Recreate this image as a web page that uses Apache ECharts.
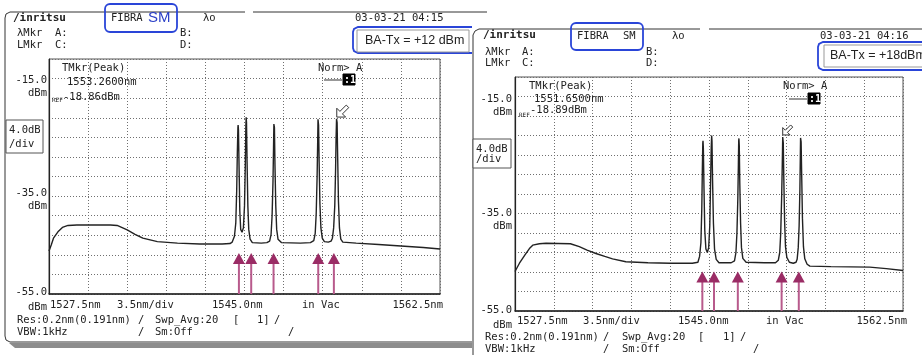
<!DOCTYPE html>
<html>
<head>
<meta charset="utf-8">
<script src="https://cdn.jsdelivr.net/npm/echarts@6/dist/echarts.min.js"></script>
<style>
html, body { margin: 0; background: #fff; }
#main { width: 922px; height: 355px; }
</style>
</head>
<body>
<div id="main"></div>
<script>
// wavelength span and level scale of the OSA screens
var wlStart = 1527.5, wlEnd = 1562.5, wlDiv = 3.5;
var lvlBottom = -55, lvlTop = -7, lvlDiv = 4;

// spectrum traces [nm, dBm]
var traceLeft = [
  [1527.5, -46.2], [1527.7, -45.0], [1527.9, -43.6], [1528.3, -42.3], [1528.7, -41.4], [1529.2, -41.0],
  [1530.0, -40.9], [1533.0, -40.9], [1533.6, -41.0], [1534.5, -41.9], [1535.2, -42.8], [1535.9, -43.6],
  [1537.2, -44.3], [1539.0, -44.6], [1541.0, -44.8], [1543.0, -44.8], [1543.7, -44.7],
  [1543.9, -44.4], [1544.1, -43.2], [1544.22, -40.5], [1544.3, -34], [1544.36, -26], [1544.41, -21],
  [1544.43, -20.5], [1544.46, -21.5], [1544.52, -30], [1544.58, -38], [1544.66, -41.8], [1544.78, -42.4],
  [1544.9, -41.5], [1545.0, -37], [1545.07, -29], [1545.12, -21], [1545.15, -18.9], [1545.18, -20],
  [1545.23, -28], [1545.3, -37], [1545.38, -41.8], [1545.5, -43.8], [1545.7, -44.5], [1546.5, -44.6],
  [1547.0, -44.5], [1547.25, -44.2], [1547.38, -42.8], [1547.47, -39], [1547.55, -32], [1547.6, -25],
  [1547.63, -20.3], [1547.65, -19.9], [1547.68, -21], [1547.73, -29], [1547.8, -37], [1547.88, -41.8],
  [1548.0, -43.8], [1548.3, -44.5], [1550.0, -44.6], [1550.9, -44.5], [1551.2, -44.1], [1551.33, -42.6],
  [1551.42, -38.5], [1551.5, -31], [1551.55, -24], [1551.58, -19.3], [1551.6, -18.9], [1551.63, -20.5],
  [1551.68, -28], [1551.75, -36.5], [1551.84, -41.5], [1551.96, -43.6], [1552.15, -44.3], [1552.5, -44.4],
  [1552.75, -44.2], [1552.87, -43.6], [1552.98, -41.5], [1553.08, -37], [1553.15, -30], [1553.2, -23],
  [1553.24, -19.2], [1553.26, -18.86], [1553.29, -20], [1553.34, -27], [1553.41, -36], [1553.5, -41.5],
  [1553.62, -43.8], [1553.8, -44.4], [1555.0, -44.6], [1557.0, -44.9], [1559.0, -45.2], [1561.0, -45.5],
  [1562.5, -45.8]
];
var traceRight = [
  [1527.5, -46.9], [1527.9, -45.2], [1528.4, -43.5], [1528.8, -42.2], [1529.1, -41.5], [1529.7, -41.2],
  [1530.3, -41.1], [1532.5, -41.2], [1533.3, -41.8], [1534.0, -42.5], [1534.8, -43.2], [1535.6, -43.8],
  [1536.3, -44.3], [1537.5, -44.9], [1539.5, -45.1], [1541.5, -45.2], [1543.5, -45.2], [1544.0, -45.0],
  [1544.15, -43.8], [1544.27, -41], [1544.35, -34], [1544.4, -26], [1544.44, -20.6], [1544.46, -20.1],
  [1544.49, -21.5], [1544.55, -30], [1544.62, -38.5], [1544.72, -42.3], [1544.85, -43.0], [1544.97, -42],
  [1545.07, -37.5], [1545.14, -29], [1545.2, -21.5], [1545.24, -19.0], [1545.27, -20.2], [1545.32, -28],
  [1545.4, -37], [1545.5, -42.3], [1545.65, -44.4], [1545.9, -45.1], [1547.0, -45.1], [1547.3, -44.7],
  [1547.43, -43], [1547.52, -39], [1547.6, -32], [1547.65, -25], [1547.68, -20.1], [1547.7, -19.6],
  [1547.73, -21], [1547.78, -29], [1547.85, -37], [1547.93, -42], [1548.05, -44.2], [1548.35, -45.0],
  [1550.0, -45.1], [1551.0, -45.1], [1551.25, -44.6], [1551.38, -43], [1551.47, -39], [1551.55, -32],
  [1551.61, -25], [1551.65, -19.3], [1551.67, -18.89], [1551.7, -20.5], [1551.75, -28], [1551.82, -36.5],
  [1551.9, -41.8], [1552.02, -44], [1552.25, -45], [1552.6, -45.2], [1552.85, -45.0], [1552.95, -44.4],
  [1553.05, -42], [1553.13, -37.5], [1553.2, -30], [1553.24, -23], [1553.26, -19.5], [1553.28, -19.1],
  [1553.31, -20.3], [1553.36, -27], [1553.43, -36], [1553.52, -41.8], [1553.64, -44.3], [1553.85, -45.4],
  [1554.1, -45.8], [1556.0, -45.9], [1559.5, -46.0], [1561.0, -46.3], [1562.5, -46.7]
];

// channel arrows drawn under the trace (wavelengths, and level of the arrow tip)
var arrowsLeft = [1544.5, 1545.6, 1547.6, 1551.6, 1553.0];
var arrowsRight = [1544.4, 1545.45, 1547.6, 1551.55, 1553.1];
var arrowTipLeft = -46.6, arrowTipRight = -46.9;

// trace marker (peak)
var markerLeft = [1553.26, -18.86];
var markerRight = [1551.65, -18.89];

// screen texts
var levelLabels = ['-15.0', '-35.0', '-55.0'];
var wlLabels = ['1527.5nm', '3.5nm/div', '1545.0nm', 'in Vac', '1562.5nm'];
var stampLeft = '03-03-21 04:15', stampRight = '03-03-21 04:16';
var powerLeft = 'BA-Tx = +12 dBm', powerRight = 'BA-Tx = +18dBm';
var peakLeft = ['1553.2600nm', '-18.86dBm'], peakRight = ['1551.6500nm', '-18.89dBm'];

var myChart = echarts.init(document.getElementById('main'));

var MONO = '"DejaVu Sans Mono", "Liberation Mono", monospace';
var INK = '#222';
var BLUE = '#2a45d8';

function t(x, y, text, o) {
  o = o || {};
  return {
    type: 'text', x: x, y: y, z: 5,
    style: {
      text: text,
      font: o.font || ('10.5px ' + MONO),
      fill: o.fill || INK,
      textAlign: o.align || 'left', align: o.align || 'left',
      textVerticalAlign: 'middle', verticalAlign: 'middle'
    }
  };
}
function pl(points, o) {
  o = o || {};
  return { type: 'polyline', z: o.z || 1, shape: { points: points },
    style: { stroke: o.stroke || '#333', lineWidth: o.lw || 1, fill: null } };
}
function box(x, y, w, h, o) {
  o = o || {};
  return { type: 'rect', z: o.z || 1, shape: { x: x, y: y, width: w, height: h, r: o.r || 0 },
    style: { stroke: o.stroke || '#333', lineWidth: o.lw || 1, fill: o.fill || null } };
}

// one OSA screen's texts, given pixel anchors
function screen(p) {
  var g = [];
  g.push(t(p.logo[0], p.logo[1], '/inritsu', { font: 'bold 11px ' + MONO }));
  g.push(t(p.fibra[0], p.fibra[1], 'FIBRA'));
  g.push(t(p.sm[0], p.sm[1], 'SM', p.smFont));
  g.push(t(p.lo[0], p.lo[1], 'λo'));
  g.push(t(p.stamp[0], p.stamp[1], p.stampText));
  g.push(t(p.mkr[0], p.mkr[1], 'λMkr'), t(p.mkr[2], p.mkr[1], 'A:'), t(p.mkr[3], p.mkr[1], 'B:'));
  g.push(t(p.mkr[0], p.mkr[4], 'LMkr'), t(p.mkr[2], p.mkr[4], 'C:'), t(p.mkr[3], p.mkr[4], 'D:'));
  g.push(t(p.tm[0], p.tm[1], 'TMkr(Peak)'));
  g.push(t(p.tm[0] + 5, p.tm[2], p.peak[0]));
  g.push(t(p.tm[0] - 10, p.tm[4] + 2, 'REF', { font: '6px ' + MONO }));
  g.push(t(p.tm[0] + 1, p.tm[3], p.peak[1]));
  g.push(t(p.norm[0], p.norm[1], 'Norm> A'));
  g.push(pl([[p.norm[0] + 6, p.norm[2]], [p.norm[0] + 24, p.norm[2]]], { z: 5 }));
  g.push(box(p.norm[0] + 25, p.norm[2] - 6, 12, 11, { fill: '#000', stroke: '#000', z: 5 }));
  g.push(t(p.norm[0] + 26, p.norm[2], ':1', { fill: '#fff', font: 'bold 10px ' + MONO }));
  // level scale texts
  var lx = p.lvlX;
  g.push(t(lx, p.lvlY[0], levelLabels[0], { align: 'right' }), t(lx, p.lvlY[0] + 13, 'dBm', { align: 'right' }));
  g.push(t(lx, p.lvlY[1], levelLabels[1], { align: 'right' }), t(lx, p.lvlY[1] + 13, 'dBm', { align: 'right' }));
  g.push(t(lx, p.lvlY[2], levelLabels[2], { align: 'right' }), t(lx, p.lvlY[2] + 15, 'dBm', { align: 'right' }));
  g.push(box(p.div[0], p.div[1], p.div[2], p.div[3], { fill: '#fff', stroke: '#555' }));
  g.push(t(p.div[0] + 3, p.div[1] + 10, '4.0dB'), t(p.div[0] + 3, p.div[1] + p.div[3] - 9, '/div'));
  // wavelength texts
  for (var i = 0; i < wlLabels.length; i++) {
    g.push(t(p.wlX[i], p.wlY, wlLabels[i], { align: i === 4 ? 'right' : 'left' }));
  }
  var r1 = p.info[1], r2 = p.info[2], c = p.info[0];
  g.push(t(c[0], r1, 'Res:0.2nm(0.191nm)'), t(c[1], r1, '/'), t(c[2], r1, 'Swp_Avg:20'),
         t(c[3], r1, '['), t(c[4], r1, '1]'), t(c[5], r1, '/'));
  g.push(t(c[0], r2, 'VBW:1kHz'), t(c[1], r2, '/'), t(c[2], r2, 'Sm:Off'), t(c[6], r2, '/'));
  return g;
}

var graphics = [];
// left screen frame
graphics.push(pl([[245, 12], [10, 12], [6, 14], [5, 18], [5, 336], [6, 340], [10, 342], [472, 342]]));
graphics.push(pl([[253, 12], [487, 12]]));
graphics.push({ type: 'polygon', z: 1, shape: { points: [[9, 343], [472, 343], [472, 348], [15, 348]] },
  style: { fill: '#8c8c8c' } });
graphics.push(box(105, 4, 72, 28, { r: 5, stroke: BLUE, lw: 1.8 }));
graphics.push(pl([[472, 27], [358, 27], [354, 29], [353, 32], [353, 48], [354, 51], [358, 53], [472, 53]], { stroke: BLUE, lw: 1.8 }));
graphics.push(box(357, 30, 112, 22, { stroke: '#999' }));
graphics.push(t(365, 41, powerLeft, { font: '12.5px "Liberation Sans", Arial, sans-serif' }));
graphics = graphics.concat(screen({
  logo: [13, 18], fibra: [111, 18], sm: [148, 18],
  smFont: { font: '15px "Liberation Sans", Arial, sans-serif', fill: '#2a3fc7' },
  lo: [203, 18], stamp: [355, 18], stampText: stampLeft,
  mkr: [17, 33, 55, 180, 45],
  tm: [62, 68, 82, 97, 98], peak: peakLeft,
  norm: [318, 68, 80],
  lvlX: 47, lvlY: [80, 193, 292],
  div: [6, 120, 37, 33],
  wlX: [50, 117, 212, 302, 443], wlY: 305,
  info: [[17, 138, 155, 233, 257, 274, 288], 320, 332]
}));

// right screen frame
graphics.push(pl([[700, 29], [479, 29], [475, 31], [473, 35], [473, 355]]));
graphics.push(pl([[709, 29], [922, 29]]));
graphics.push(box(571, 23, 72, 27, { r: 5, stroke: BLUE, lw: 1.8 }));
graphics.push(pl([[930, 42], [823, 42], [819, 44], [818, 47], [818, 65], [819, 68], [823, 70], [930, 70]], { stroke: BLUE, lw: 1.8 }));
graphics.push(box(824, 45, 110, 22, { stroke: '#999' }));
graphics.push(t(830, 56, powerRight, { font: '12.5px "Liberation Sans", Arial, sans-serif' }));
graphics = graphics.concat(screen({
  logo: [483, 35], fibra: [577, 36], sm: [623, 36], smFont: {},
  lo: [672, 36], stamp: [820, 36], stampText: stampRight,
  mkr: [485, 52, 522, 646, 63],
  tm: [529, 86, 99, 110, 113], peak: peakRight,
  norm: [783, 86, 99],
  lvlX: 512, lvlY: [99, 213, 310],
  div: [473, 139, 38, 29],
  wlX: [517, 583, 678, 766, 907], wlY: 321,
  info: [[485, 603, 622, 698, 723, 740, 753], 337, 349]
}));

var gridDots = { type: [1, 2], color: '#6f6f6f', width: 1 };

function xAx(gi) {
  return {
    gridIndex: gi, type: 'value', min: wlStart, max: wlEnd, interval: wlDiv,
    axisLabel: { show: false }, axisTick: { show: false },
    axisLine: { show: true, onZero: false, lineStyle: { color: '#222', width: 1.5 } },
    splitLine: { show: true, lineStyle: gridDots }
  };
}
function yAx(gi) {
  return {
    gridIndex: gi, type: 'value', min: lvlBottom, max: lvlTop, interval: lvlDiv,
    axisLabel: { show: false }, axisTick: { show: false },
    axisLine: { show: true, lineStyle: { color: '#222', width: 1.2 } },
    splitLine: { show: true, lineStyle: gridDots }
  };
}

var arrowPath = 'path://M0,10 L0,3 L2.5,5.5 L7.5,0.5 L9.5,2.5 L4.5,7.5 L7,10 Z';

function traceSeries(gi, data, marker, size) {
  return {
    type: 'line', xAxisIndex: gi, yAxisIndex: gi, data: data,
    showSymbol: false, z: 3,
    lineStyle: { color: '#222', width: 1.4 },
    markPoint: {
      symbol: arrowPath, symbolSize: [size, size], symbolOffset: [size / 2, -size / 2],
      itemStyle: { color: '#fff', borderColor: '#333', borderWidth: 1 },
      label: { show: false },
      data: [{ coord: marker }]
    }
  };
}

function arrowSeries(gi, wls, tip) {
  return {
    type: 'custom', xAxisIndex: gi, yAxisIndex: gi, z: 4,
    data: wls.map(function (w) { return [w, lvlBottom, tip]; }),
    renderItem: function (params, api) {
      var b = api.coord([api.value(0), api.value(1)]);
      var p = api.coord([api.value(0), api.value(2)]);
      return {
        type: 'group',
        children: [
          { type: 'line', shape: { x1: b[0], y1: b[1], x2: p[0], y2: p[1] + 9 },
            style: { stroke: '#b85a8c', lineWidth: 2 } },
          { type: 'polygon', shape: { points: [[p[0], p[1]], [p[0] - 6, p[1] + 11], [p[0] + 6, p[1] + 11]] },
            style: { fill: '#9a2c65' } }
        ]
      };
    }
  };
}

var option = {
  animation: false,
  backgroundColor: '#fff',
  grid: [
    { left: 49, top: 59, width: 391, height: 235, show: true, borderColor: '#555', borderWidth: 1 },
    { left: 515, top: 77, width: 388, height: 234, show: true, borderColor: '#555', borderWidth: 1 }
  ],
  xAxis: [xAx(0), xAx(1)],
  yAxis: [yAx(0), yAx(1)],
  graphic: { elements: graphics },
  series: [
    traceSeries(0, traceLeft, markerLeft, 12),
    traceSeries(1, traceRight, markerRight, 10),
    arrowSeries(0, arrowsLeft, arrowTipLeft),
    arrowSeries(1, arrowsRight, arrowTipRight)
  ]
};

myChart.setOption(option);
</script>
</body>
</html>
